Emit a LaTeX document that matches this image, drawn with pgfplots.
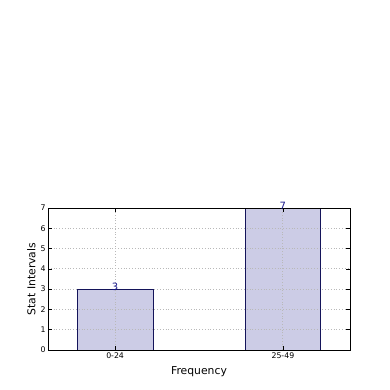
\documentclass[border=0pt]{standalone}
\usepackage{pgfplots}
\pgfplotsset{compat=1.18}
\usepackage{fontspec}
\setmainfont{DejaVu Sans}
\definecolor{barfill}{RGB}{204,204,230}
\definecolor{baredge}{RGB}{20,20,90}
\definecolor{lblblue}{RGB}{25,25,140}
\begin{document}
\begin{tikzpicture}[x=1pt,y=1pt]
\path[use as bounding box] (0,0) rectangle (390,390);
\begin{axis}[
    at={(48pt,40pt)}, anchor=south west,
    width=302pt, height=142pt, scale only axis,
    xmin=-0.4, xmax=1.4, ymin=0, ymax=7,
    xtick={0,1}, xticklabels={0-24,25-49},
    ytick={0,1,...,7},
    axis on top,
    tick align=inside, major tick length=4pt,
    tick style={black, line width=0.5pt},
    axis line style={black, line width=0.8pt},
    tick label style={font=\fontsize{7.8}{9}\selectfont},
    /pgf/number format/assume math mode=true,
    label style={font=\fontsize{10.8}{13}\selectfont},
    xlabel={Frequency},
    ylabel={Stat Intervals},
    xlabel style={yshift=-1pt},
    ylabel style={yshift=-2pt},
    xticklabel style={yshift=1pt},
    yticklabel style={xshift=1pt},
    clip=false,
]
% bar fill
\addplot[ybar, bar width=0.45, fill=barfill, draw=none]
  coordinates {(0,3) (1,7)};
% grid over the fill
\pgfplotsinvokeforeach{1,...,6}{
  \addplot[gray!55, dotted, line width=0.8pt] coordinates {(-0.4,#1) (1.4,#1)};
}
\pgfplotsinvokeforeach{0,1}{
  \addplot[gray!55, dotted, line width=0.8pt] coordinates {(#1,0) (#1,7)};
}
% bar outline over the grid
\addplot[ybar, bar width=0.45, fill=none, draw=baredge, line width=0.6pt]
  coordinates {(0,3) (1,7)};
\addplot[only marks, mark=none, nodes near coords,
  nodes near coords style={text=lblblue, anchor=south, inner sep=0pt, yshift=-1.5pt, font=\fontsize{10}{11}\selectfont},
  point meta=explicit symbolic]
  coordinates {(0,3) [3] (1,7) [7]};
\end{axis}
\end{tikzpicture}
\end{document}
